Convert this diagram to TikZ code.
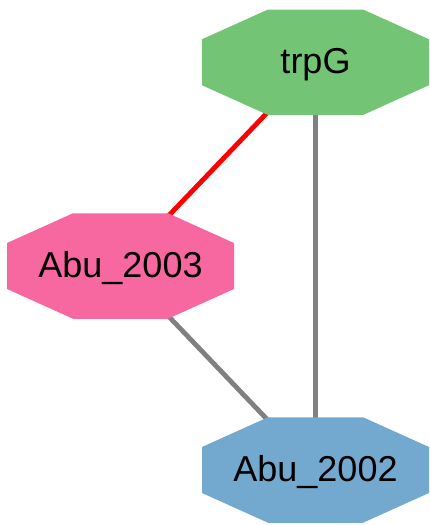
\documentclass[tikz,border=0pt]{standalone}
\usepackage{fontspec}
\setmainfont{Liberation Sans}
\definecolor{cgreen}{HTML}{74C476}
\definecolor{cpink}{HTML}{F768A1}
\definecolor{cblue}{HTML}{74A9CF}
\definecolor{cgray}{HTML}{808080}
\pgfdeclarelayer{bg}
\pgfsetlayers{bg,main}
\tikzset{
  lbl/.style={inner sep=0pt, yshift=-2pt, font=\fontsize{36}{40}\selectfont, text=black},
  edge/.style={line width=4.8pt, draw=#1},
}
\newcommand{\octat}[2]{% center, color
  \fill[#2] ($#1+(-47.5,-52.75)$) -- ($#1+(47.5,-52.75)$) -- ($#1+(113.5,-23)$) -- ($#1+(113.5,23)$)
    -- ($#1+(47.5,52.75)$) -- ($#1+(-47.5,52.75)$) -- ($#1+(-113.5,23)$) -- ($#1+(-113.5,-23)$) -- cycle;}
\usetikzlibrary{calc}
\begin{document}
\begin{tikzpicture}[x=1pt,y=-1pt]
\useasboundingbox (0,0) rectangle (429,525);
\coordinate (ctrpG) at (315.5,62.25);
\coordinate (ca3) at (120.5,266);
\coordinate (ca2) at (315.5,470);
\octat{(ctrpG)}{cgreen}
\octat{(ca3)}{cpink}
\octat{(ca2)}{cblue}
\node[lbl] (trpG) at (ctrpG) {trpG};
\node[lbl] (a3) at (ca3) {Abu\_2003};
\node[lbl] (a2) at (ca2) {Abu\_2002};
\begin{pgfonlayer}{bg}
\draw[edge=red] (ctrpG) -- (ca3);
\draw[edge=cgray] (ctrpG) -- (ca2);
\draw[edge=cgray] (ca3) -- (ca2);
\end{pgfonlayer}
\end{tikzpicture}
\end{document}
